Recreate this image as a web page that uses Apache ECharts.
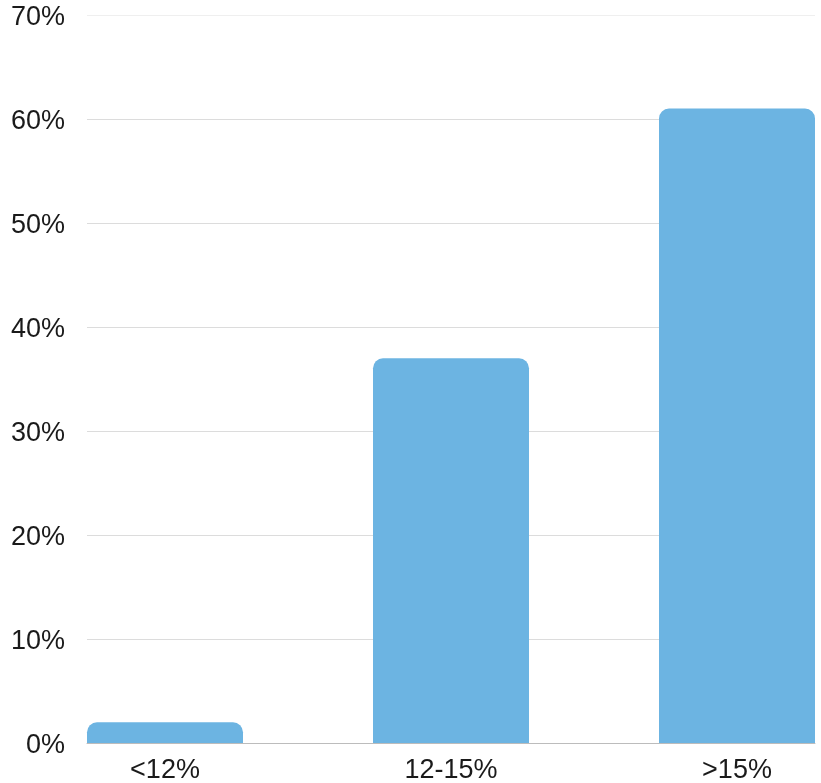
<!DOCTYPE html>
<html>
<head>
<meta charset="utf-8">
<script src="https://cdn.jsdelivr.net/npm/echarts@6/dist/echarts.min.js"></script>
<style>
html,body{margin:0;padding:0;background:#fff;}
#chart{width:821px;height:783px;}
</style>
</head>
<body>
<div id="chart"></div>
<script>
const categories = ['<12%', '12-15%', '>15%'];
const shareValues = [2, 37, 61];
const yTicks = [0, 10, 20, 30, 40, 50, 60, 70];

const FONT = 'Liberation Sans';
const chart = echarts.init(document.getElementById('chart'), null, {renderer: 'canvas'});
chart.setOption({
  animation: false,
  backgroundColor: '#ffffff',
  grid: [
    {left: 87, right: 6, top: 15, bottom: 40, containLabel: false, outerBoundsMode: 'none'},
    {left: 165, right: 84, top: 15, bottom: 40, containLabel: false, outerBoundsMode: 'none'}
  ],
  xAxis: [
    {
      gridIndex: 0, type: 'value', min: 0, max: 1,
      axisLine: {show: true, lineStyle: {color: '#bcbcbc', width: 1}},
      axisTick: {show: false}, axisLabel: {show: false}, splitLine: {show: false}
    },
    {
      gridIndex: 1, type: 'category', boundaryGap: false, data: categories,
      axisLine: {show: false}, axisTick: {show: false}, splitLine: {show: false},
      axisLabel: {fontFamily: FONT, fontSize: 27, color: '#1a1a1a', margin: 14}
    }
  ],
  yAxis: [
    {
      gridIndex: 0, type: 'value', min: yTicks[0], max: yTicks[yTicks.length - 1], interval: 10,
      axisLine: {show: false}, axisTick: {show: false},
      axisLabel: {
        margin: 22, formatter: '{v|{value}%}',
        rich: {v: {fontFamily: FONT, fontSize: 27, color: '#1a1a1a', padding: [6, 0, 0, 0]}}
      },
      splitLine: {show: true, lineStyle: {color: ['#dcdcdc','#dcdcdc','#dcdcdc','#dcdcdc','#dcdcdc','#dcdcdc','#dcdcdc','#efefef'], width: 1}}
    },
    {
      gridIndex: 1, type: 'value', min: yTicks[0], max: yTicks[yTicks.length - 1], interval: 10, show: false,
      splitLine: {show: false}
    }
  ],
  series: [
    {
      type: 'bar', xAxisIndex: 1, yAxisIndex: 1, data: shareValues,
      barWidth: 156, clip: false,
      itemStyle: {color: '#6cb4e2', borderRadius: [10, 10, 0, 0]}
    }
  ]
});
</script>
</body>
</html>
